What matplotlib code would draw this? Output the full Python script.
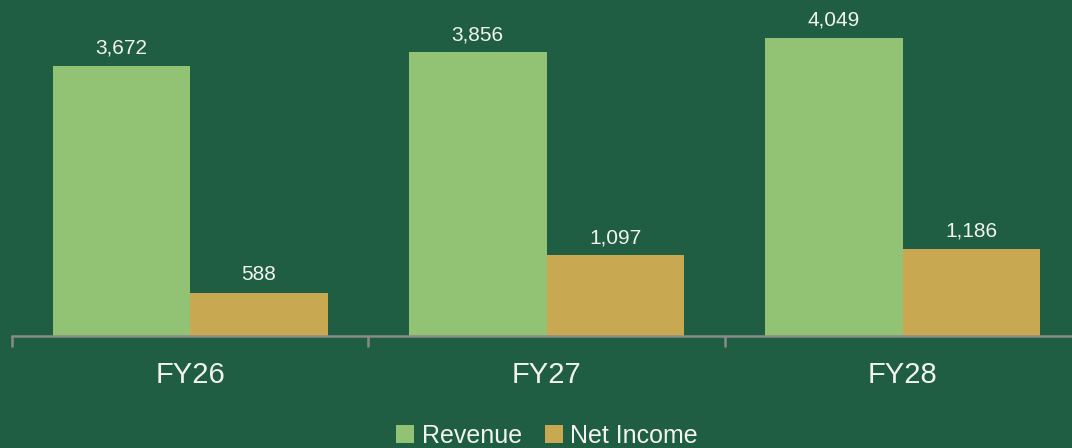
import matplotlib
matplotlib.use("Agg")
import matplotlib.pyplot as plt
import numpy as np

categories = ["FY26", "FY27", "FY28"]
revenue = [3672, 3856, 4049]
net_income = [588, 1097, 1186]
series_names = ["Revenue", "Net Income"]

BG = "#1F5E42"
C_REV = "#92C274"
C_NI = "#C8A850"
TXT = "#F2F2F2"
AX = "#8A8A8A"

plt.rcParams['font.family'] = ['Liberation Sans', 'DejaVu Sans']

W, H = 1072, 448
fig = plt.figure(figsize=(W / 100, H / 100), dpi=100, facecolor=BG)
# plot area: x from 12 px to 1081 px, y from 0 to 336 px (from top)
ax = fig.add_axes([12 / W, (H - 336) / H, 1069 / W, 336 / H])
ax.set_facecolor(BG)

x = np.arange(len(categories))
bw = 0.386
b1 = ax.bar(x - bw / 2, revenue, bw, color=C_REV, label=series_names[0], zorder=2)
b2 = ax.bar(x + bw / 2, net_income, bw, color=C_NI, label=series_names[1], zorder=2)

ax.set_xlim(-0.5, len(categories) - 0.5)
ax.set_ylim(0, 4570)

for bars in (b1, b2):
    for r in bars:
        ax.annotate(f"{int(r.get_height()):,}", (r.get_x() + r.get_width() / 2, r.get_height()),
                    xytext=(0, 6), textcoords="offset points", ha="center", va="bottom",
                    color=TXT, fontsize=15)

for s in ["top", "right", "left"]:
    ax.spines[s].set_visible(False)
ax.spines["bottom"].set_color(AX)
ax.spines["bottom"].set_linewidth(1.8)
ax.set_yticks([])
ax.set_xticks(np.arange(len(categories) + 1) - 0.5, minor=True)
ax.set_xticks(x)
ax.set_xticklabels(categories, fontsize=21, color=TXT)
ax.tick_params(axis="x", which="major", length=0, pad=18)
ax.tick_params(axis="x", which="minor", length=8, width=1.8, color=AX)

leg = fig.legend(handles=[b1, b2], labels=series_names, loc="center",
                 bbox_to_anchor=(547 / W, (H - 436) / H), ncol=2, frameon=False,
                 fontsize=18, handlelength=0.72, handleheight=0.72, handletextpad=0.3,
                 columnspacing=0.9, labelcolor=TXT)

fig.savefig("out.png", dpi=100, facecolor=BG)
